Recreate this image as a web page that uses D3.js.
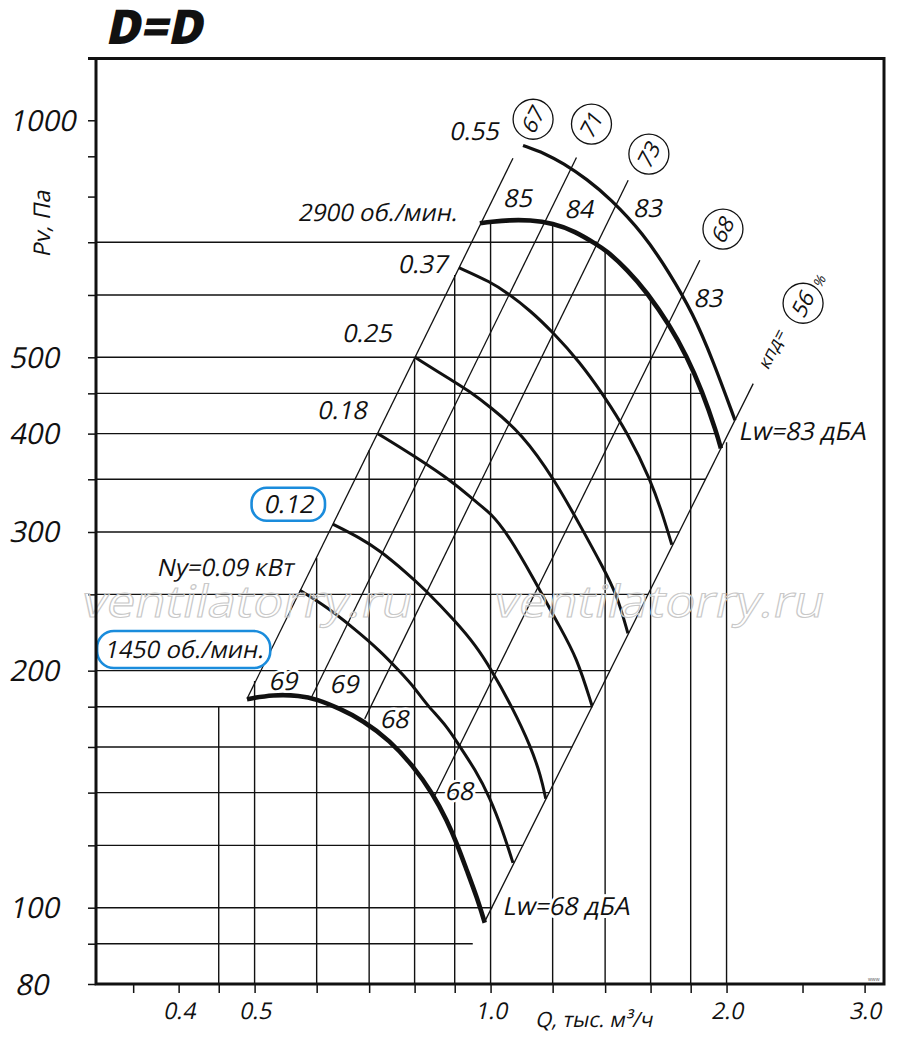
<!DOCTYPE html>
<html>
<head>
<meta charset="utf-8">
<script src="https://cdn.jsdelivr.net/npm/d3@7"></script>
<style>
  html, body { margin: 0; padding: 0; background: #fff; }
  svg text { font-family: "Open Sans", "Noto Sans", sans-serif; }
</style>
</head>
<body>
<div id="chart"></div>
<script>
// Axis ticks
var qTicks  = [0.35, 0.4, 0.45, 0.5, 0.6, 0.7, 0.8, 0.9, 1.0, 1.2, 1.4, 1.6, 1.8, 2.0, 2.5, 3.0];
var qLabels = [0.4, 0.5, 1.0, 2.0, 3.0];
var pTicks  = [1000, 900, 800, 700, 600, 500, 450, 400, 350, 300, 250, 200, 180, 160, 140, 120, 100, 90, 80];
var pLabels = [1000, 500, 400, 300, 200, 100, 80];

// Grid: vertical lines (Q) up to a pressure, horizontal lines (P) out to a flow
var vGridQ   = [0.45, 0.5, 0.6, 0.7, 0.8, 0.9, 1.0, 1.2, 1.4, 1.6, 1.8, 2.0];
var vGridTop = [180, 194, 278, 381, 500, 636, 743, 740, 683, 596, 477, 390];
var hGridP   = [700, 600, 500, 450, 400, 350, 300, 250, 200, 180, 160, 140, 120, 100, 90];
var hGridEnd = [1.367, 1.581, 1.778, 1.858, 1.942, 1.880, 1.741, 1.589, 1.420, 1.349, 1.271, 1.189, 1.101, 1.005, 0.949];

// Fan curves at full speed
var rpm2900Q = [0.969, 1.001, 1.058, 1.122, 1.201, 1.281, 1.367, 1.403, 1.497, 1.582, 1.693, 1.780, 1.860, 1.944, 1.967];
var rpm2900P = [740, 743, 747, 747, 740, 723, 695, 684, 645, 605, 549, 501, 454, 400, 383];
var rpm1450Q = [0.489, 0.528, 0.571, 0.600, 0.642, 0.687, 0.744, 0.796, 0.844, 0.880, 0.906, 0.933, 0.961, 0.983];
var rpm1450P = [184, 186.5, 186, 184, 179, 173, 163, 151.5, 139.6, 129, 120.6, 111.4, 103, 95.7];

// Curves by motor power
var n055Q = [1.100, 1.173, 1.237, 1.327, 1.420, 1.565, 1.693, 1.811, 1.921, 2.050];
var n055P = [929, 908, 882, 842, 796, 719, 639, 569, 496, 416];
var n037Q = [0.911, 1.001, 1.052, 1.122, 1.201, 1.300, 1.395, 1.497, 1.601, 1.659, 1.703];
var n037P = [650, 623, 603, 574, 538, 493, 447, 400, 349, 315, 289];
var n025Q = [0.801, 0.900, 0.933, 1.001, 1.096, 1.204, 1.315, 1.387, 1.449, 1.497];
var n025P = [500, 465, 455, 432, 400, 351, 300, 272, 250, 223];
var n018Q = [0.718, 0.798, 0.900, 0.952, 1.001, 1.052, 1.132, 1.226, 1.288, 1.347];
var n018P = [400, 375, 346, 329, 317, 298, 263, 227, 208, 180.5];
var n012Q = [0.629, 0.681, 0.723, 0.782, 0.820, 0.906, 0.958, 1.001, 1.065, 1.126, 1.159, 1.176];
var n012P = [307, 295, 284, 266, 255, 230, 215, 201, 180, 160, 147, 137.5];
var n009Q = [0.571, 0.618, 0.667, 0.723, 0.766, 0.801, 0.829, 0.880, 0.914, 0.955, 0.998, 1.037, 1.068];
var n009P = [253, 241, 227, 212, 199.5, 190, 181, 170, 160, 150, 138, 125, 114];

// Efficiency rays (P ~ Q^2): lower and upper ends
var rayLowQ  = [0.489, 0.591, 0.691, 0.849, 0.983];
var rayLowP  = [184.2, 185, 173.7, 138.8, 96];
var rayHighQ = [1.068, 1.287, 1.498, 1.849, 2.163];
var rayHighP = [895, 897, 839, 664, 463];
var effValues = ["67", "71", "73", "68", "56"];
var effQ = [1.133, 1.345, 1.592, 1.979, 2.504];
var effP = [1003, 989, 906, 727.6, 585.6];

// Sound power along the curves
var lwText = ["85", "84", "83", "83", "69", "69", "68", "68"];
var lwQ    = [1.082, 1.296, 1.585, 1.893, 0.543, 0.650, 0.753, 0.911];
var lwP    = [776, 751, 754, 579, 189, 187.4, 169.2, 137];

// Power labels
var powerText = ["0.55", "0.37", "0.25", "0.18", "0.12", "Ny=0.09 кВт"];
var powerQ    = [0.952, 0.8185, 0.695, 0.646, 0.552, 0.458];
var powerP    = [944, 640, 523, 417.5, 317, 264];

var speedText = ["2900 об./мин.", "1450 об./мин."];
var speedQ    = [0.717, 0.406];
var speedP    = [745, 207.6];

var totalLwText = ["Lw=83 дБА", "Lw=68 дБА"];
var totalLwQ    = [2.495, 1.247];
var totalLwP    = [392.6, 97.9];

var W = 900, H = 1038;
var frame = {left: 96, right: 884, top: 58.5, bottom: 984};
var ink = "#111";
var blue = "#1a8cdc";
var SLANT = " skewX(-12)";

var x = d3.scaleLog().domain([0.3138, 3.176]).range([frame.left, frame.right]);
var y = d3.scaleLog().domain([80, 1198]).range([frame.bottom, frame.top]);

var svg = d3.select("#chart").append("svg")
    .attr("width", W)
    .attr("height", H);

function pts(qs, ps) {
    return qs.map(function(q, i) { return [x(q), y(ps[i])]; });
}
var line = d3.line().curve(d3.curveBasis);

// slanted text placed at a point
function tr(px, py, extra) {
    return "translate(" + px + "," + py + ")" + (extra || "") + SLANT;
}

// ****************** grid ******************
var grid = svg.append("g").attr("stroke", ink).attr("stroke-width", 1.4);

grid.selectAll("line.v").data(vGridQ).enter().append("line")
    .attr("class", "v")
    .attr("x1", function(d) { return x(d); })
    .attr("x2", function(d) { return x(d); })
    .attr("y1", frame.bottom)
    .attr("y2", function(d, i) { return y(vGridTop[i]); });

grid.selectAll("line.h").data(hGridP).enter().append("line")
    .attr("class", "h")
    .attr("x1", frame.left)
    .attr("x2", function(d, i) { return x(hGridEnd[i]); })
    .attr("y1", function(d) { return y(d); })
    .attr("y2", function(d) { return y(d); });

// efficiency rays
svg.append("g").attr("stroke", ink).attr("stroke-width", 1.3)
  .selectAll("line").data(rayLowQ).enter().append("line")
    .attr("x1", function(d) { return x(d); })
    .attr("y1", function(d, i) { return y(rayLowP[i]); })
    .attr("x2", function(d, i) { return x(rayHighQ[i]); })
    .attr("y2", function(d, i) { return y(rayHighP[i]); });

// ****************** curves ******************
var curves = [
    {q: n009Q, p: n009P, w: 3},
    {q: n012Q, p: n012P, w: 3},
    {q: n018Q, p: n018P, w: 3},
    {q: n025Q, p: n025P, w: 3},
    {q: n037Q, p: n037P, w: 3},
    {q: n055Q, p: n055P, w: 3.3},
    {q: rpm1450Q, p: rpm1450P, w: 4.6},
    {q: rpm2900Q, p: rpm2900P, w: 4.6}
];
svg.append("g").selectAll("path").data(curves).enter().append("path")
    .attr("d", function(d) { return line(pts(d.q, d.p)); })
    .attr("fill", "none")
    .attr("stroke", ink)
    .attr("stroke-width", function(d) { return d.w; });

// ****************** axes ******************
var yAxis = svg.append("g")
    .attr("transform", "translate(" + frame.left + ",0)")
    .call(d3.axisLeft(y).tickValues(pTicks).tickSize(8)
        .tickFormat(function(d) { return pLabels.indexOf(d) >= 0 ? d : ""; }));
yAxis.select(".domain").remove();
yAxis.selectAll(".tick line").attr("stroke", ink).attr("stroke-width", 1.5);
yAxis.selectAll(".tick text")
    .attr("x", null).attr("dy", null)
    .attr("transform", function(d) { return tr(d === 80 ? -81 : -87, 10); })
    .attr("text-anchor", "start")
    .attr("font-size", 29)
    .attr("font-family", null)
    .attr("fill", ink);

var xAxis = svg.append("g")
    .attr("transform", "translate(0," + frame.bottom + ")")
    .call(d3.axisBottom(x).tickValues(qTicks).tickSize(9)
        .tickFormat(function(d) { return qLabels.indexOf(d) >= 0 ? d3.format(".1f")(d) : ""; }));
xAxis.select(".domain").remove();
xAxis.selectAll(".tick line").attr("stroke", ink).attr("stroke-width", 1.5);
xAxis.selectAll(".tick text")
    .attr("y", null).attr("dy", null)
    .attr("transform", tr(0, 35))
    .attr("font-size", 23)
    .attr("font-family", null)
    .attr("fill", ink);

svg.append("text")
    .attr("transform", tr(50, 224, " rotate(-90)"))
    .attr("text-anchor", "middle")
    .attr("font-size", 23)
    .attr("fill", ink)
    .text("Pv, Па");

svg.append("text")
    .attr("transform", tr(535, 1027))
    .attr("font-size", 21)
    .attr("fill", ink)
    .text("Q, тыс. м³/ч");

svg.append("text")
    .attr("transform", tr(105, 44))
    .attr("font-size", 48)
    .attr("font-weight", 800)
    .attr("textLength", 97)
    .attr("lengthAdjust", "spacingAndGlyphs")
    .attr("fill", ink)
    .text("D=D");

// ****************** labels ******************
var labels = svg.append("g").attr("text-anchor", "middle").attr("fill", ink);

labels.selectAll("text.power").data(powerText).enter().append("text")
    .attr("class", "power")
    .attr("transform", function(d, i) { return tr(x(powerQ[i]), y(powerP[i])); })
    .attr("font-size", function(d, i) { return i === 5 ? 24 : 25; })
    .text(function(d) { return d; });

labels.selectAll("text.speed").data(speedText).enter().append("text")
    .attr("class", "speed")
    .attr("transform", function(d, i) { return tr(x(speedQ[i]), y(speedP[i])); })
    .attr("font-size", 24)
    .text(function(d) { return d; });

labels.selectAll("text.lw").data(lwText).enter().append("text")
    .attr("class", "lw")
    .attr("transform", function(d, i) { return tr(x(lwQ[i]), y(lwP[i])); })
    .attr("font-size", 25)
    .attr("stroke", "#fff").attr("stroke-width", 5)
    .attr("paint-order", "stroke")
    .text(function(d) { return d; });

labels.selectAll("text.total").data(totalLwText).enter().append("text")
    .attr("class", "total")
    .attr("transform", function(d, i) { return tr(x(totalLwQ[i]), y(totalLwP[i])); })
    .attr("font-size", 25)
    .attr("stroke", "#fff").attr("stroke-width", 6)
    .attr("paint-order", "stroke")
    .text(function(d) { return d; });

// blue rounded frames round "0.12" and "1450 об./мин."
[labels.selectAll("text.power").filter(function(d) { return d === "0.12"; }),
 labels.selectAll("text.speed").filter(function(d) { return d === "1450 об./мин."; })]
.forEach(function(sel, k) {
    var node = sel.node();
    var b = node.getBBox();
    var m = node.getCTM();
    var cx = m.e + b.x + b.width / 2, cy = m.f + b.y + b.height / 2;
    var w = b.width + (k === 0 ? 24 : 14), h = k === 0 ? 33 : 37;
    labels.insert("rect", "text")
        .attr("x", cx - w / 2).attr("y", cy - h / 2 + 1)
        .attr("width", w).attr("height", h)
        .attr("rx", h / 2.2)
        .attr("fill", "#fff")
        .attr("stroke", blue)
        .attr("stroke-width", 2.6);
});

// circled efficiency values
var eff = svg.append("g").selectAll("g").data(effValues).enter().append("g")
    .attr("transform", function(d, i) {
        return "translate(" + x(effQ[i]) + "," + y(effP[i]) + ")";
    });
eff.append("circle").attr("r", 20)
    .attr("fill", "#fff").attr("stroke", ink).attr("stroke-width", 1.3);
eff.append("text")
    .attr("transform", "rotate(-63)" + SLANT)
    .attr("text-anchor", "middle")
    .attr("dy", "0.36em")
    .attr("font-size", 22)
    .attr("fill", ink)
    .text(function(d) { return d; });

svg.append("text")
    .attr("transform", tr(x(2.287), y(513.3), " rotate(-63)"))
    .attr("text-anchor", "middle").attr("dy", "0.35em")
    .attr("font-size", 18)
    .attr("fill", ink)
    .text("кпд=");
svg.append("text")
    .attr("transform", tr(x(2.63), y(625.6), " rotate(-63)"))
    .attr("text-anchor", "middle").attr("dy", "0.35em")
    .attr("font-size", 14)
    .attr("fill", ink)
    .text("%");

// watermark
svg.append("g").selectAll("text").data([80, 492]).enter().append("text")
    .attr("transform", function(d) { return tr(d, 617); })
    .attr("font-size", 44)
    .attr("textLength", 330)
    .attr("lengthAdjust", "spacingAndGlyphs")
    .attr("fill", "#fff")
    .attr("fill-opacity", 0.3)
    .attr("stroke", "#c8c8c8")
    .attr("stroke-width", 1.1)
    .text("ventilatorry.ru");

// ****************** frame ******************
svg.append("rect")
    .attr("x", frame.left).attr("y", frame.top)
    .attr("width", frame.right - frame.left)
    .attr("height", frame.bottom - frame.top)
    .attr("fill", "none")
    .attr("stroke", ink)
    .attr("stroke-width", 3);
svg.append("line")
    .attr("x1", frame.left - 8).attr("x2", frame.left)
    .attr("y1", frame.top).attr("y2", frame.top)
    .attr("stroke", ink).attr("stroke-width", 3);

svg.append("text")
    .attr("x", 868).attr("y", 981)
    .attr("font-size", 5)
    .attr("fill", "#555")
    .text("www");
</script>
</body>
</html>
